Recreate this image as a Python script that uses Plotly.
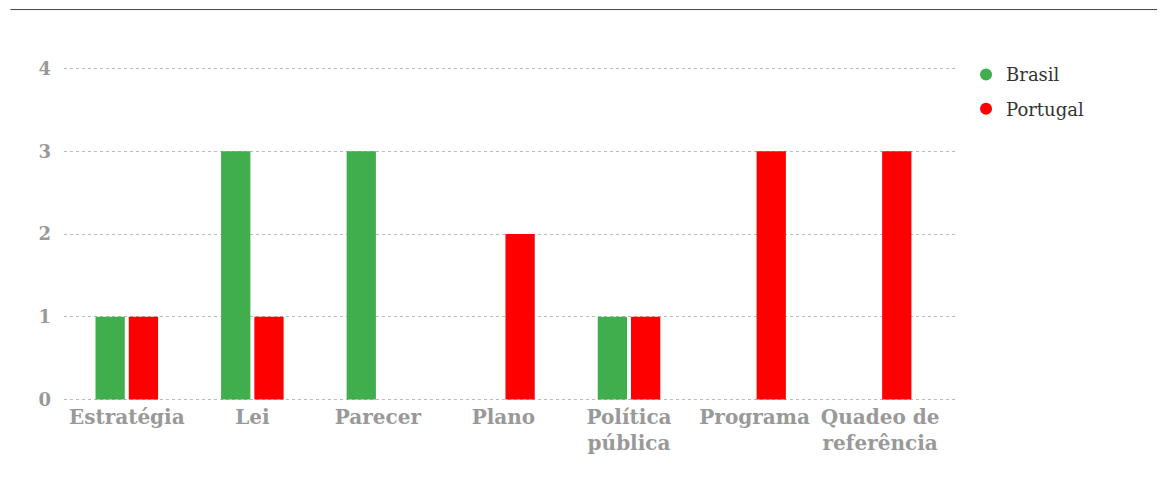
import plotly.graph_objects as go

categories = ["Estratégia", "Lei", "Parecer", "Plano", "Política<br>pública", "Programa", "Quadeo de<br>referência"]
brasil = [1, 3, 3, 0, 1, 0, 0]
portugal = [1, 1, 0, 2, 1, 3, 3]
y_ticks = [0, 1, 2, 3, 4]

GREEN = "#41ae4d"
RED = "#ff0000"

fig = go.Figure()
fig.add_trace(go.Bar(x=categories, y=brasil, name="Brasil", marker=dict(color=GREEN, line=dict(width=0)),
                     showlegend=False))
fig.add_trace(go.Bar(x=categories, y=portugal, name="Portugal", marker=dict(color=RED, line=dict(width=0)),
                     showlegend=False))
fig.add_trace(go.Scatter(x=[None], y=[None], mode="markers", name="Brasil", legendgroup="b",
                         marker=dict(color=GREEN, size=12, symbol="circle")))
fig.add_trace(go.Scatter(x=[None], y=[None], mode="markers", name="Portugal", legendgroup="p",
                         marker=dict(color=RED, size=12, symbol="circle")))

fig.update_layout(
    width=1157, height=480,
    margin=dict(l=56, r=207, t=57.5, b=85.5),
    plot_bgcolor="white", paper_bgcolor="white",
    barmode="group", bargap=0.47, bargroupgap=0.12,
    font=dict(family="DejaVu Serif", color="#999999"),
    legend=dict(x=1.009, y=1.029, xanchor="left", yanchor="top",
                font=dict(family="DejaVu Serif", size=18, color="#333333"),
                itemwidth=30, tracegroupgap=8),
    shapes=[dict(type="line", xref="paper", yref="paper", x0=-0.06, x1=1.25,
                 y0=1.168, y1=1.168, line=dict(color="#444444", width=1))],
)
fig.update_xaxes(range=[-0.5, 6.62], showgrid=False, showline=False, ticks="", ticklabelstandoff=1,
                 tickfont=dict(family="DejaVu Serif", size=20, color="#999999", weight="bold"))
fig.update_yaxes(range=[-0.03, 4.03], tickvals=y_ticks, showgrid=True, gridcolor="#bbbbbb",
                 griddash="3px,3px", gridwidth=1, zeroline=False, showline=False,
                 ticks="", ticklabelstandoff=12,
                 tickfont=dict(family="DejaVu Serif", size=18, color="#999999", weight="bold"))

fig.write_html("out.html")
